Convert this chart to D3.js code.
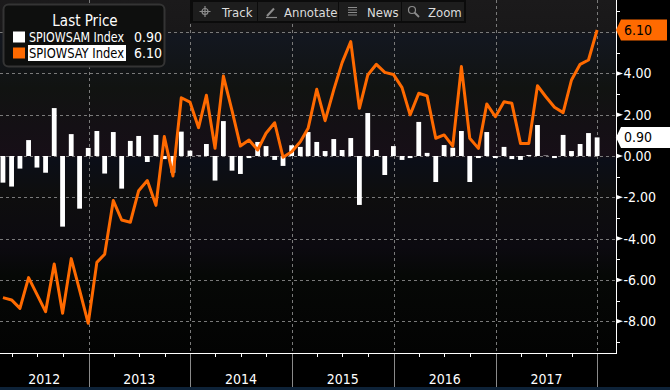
<!DOCTYPE html>
<html>
<head>
<meta charset="utf-8">
<script src="https://cdn.jsdelivr.net/npm/d3@7"></script>
<style>
  body { margin: 0; background: #000; }
  svg { display: block; }
</style>
</head>
<body>
<svg width="670" height="390"></svg>
<script>
// monthly series, first point Feb 2012, one value per month-end
let firstMonth = [2012, 1];
let momValues = [-1.29, -1.48, -0.61, 0.77, -0.56, -0.81, 2.32, -3.42, 1.06, -2.55, 0.39,
  1.21, -0.85, 1.16, -1.58, 0.73, 0.97, -0.29, 1.02, -0.15, -0.81, 1.18, 0.26, 0.03,
  0.58, -1.19, 1.69, -0.71, -0.87, -0.10, 0.68, 0.48, -0.19, -0.48, 0.52, 0.44,
  1.16, 0.68, 0.24, 0.82, 0.29, 0.87, -2.37, 2.08, 0.29, -0.92, 0.48, -0.19,
  -0.10, 1.65, 0.15, -1.26, 0.53, 0.40, 1.21, -1.26, -0.10, 1.16, -0.10, 0.44,
  -0.15, -0.19, 0.05, 1.50, 0.02, -0.10, 1.02, 0.24, 0.58, 1.11, 0.90];
let yoyValues = [-6.86, -6.97, -7.38, -5.89, -6.7, -7.54, -5.23, -7.62, -4.97, -6.5, -8.10,
  -5.15, -4.76, -2.16, -3.10, -3.21, -1.68, -1.19, -2.39, 0.94, -0.97, 2.82, 2.61, 1.37,
  2.94, 0.37, 3.87, 2.2, 0.48, 0.77, 0.29, 1.10, 1.61, -0.06, 0.21, 0.69,
  1.34, 3.23, 1.71, 3.20, 4.52, 5.54, 2.31, 3.92, 4.44, 4.05, 3.95, 3.31,
  1.99, 3.04, 2.91, 0.86, 1.02, 0.48, 4.33, 0.86, 0.37, 2.52, 1.90, 2.63,
  2.55, 0.61, 0.61, 3.40, 2.87, 2.36, 2.10, 3.68, 4.44, 4.65, 6.10];
let seriesNames = ["SPIOWSAM Index", "SPIOWSAY Index"];
let yearLabels = ["2012", "2013", "2014", "2015", "2016", "2017"];
let yMajorTicks = [-8, -6, -4, -2, 0, 2, 4, 6];
let yMinorTicks = [-9, -7, -5, -3, -1, 1, 3, 5, 7];
let toolButtons = ["Track", "Annotate", "News", "Zoom"];

let FONT = '"DejaVu Sans Condensed", "Liberation Sans Narrow", "DejaVu Sans", sans-serif';
let ORANGE = "#ff6a00";

let svg = d3.select("svg"),
    axisX = 616,
    plotBottom = 353;

let fmt = d3.formatLocale({decimal: ".", thousands: ",", grouping: [3], currency: ["", ""], minus: "-"}).format(".2f");

let dates = momValues.map(function(d, i) {
  return new Date(firstMonth[0], firstMonth[1] + i + 1, 0);
});

let x = d3.scaleTime()
    .domain([new Date(2013, 0, 1), new Date(2018, 0, 1)])
    .range([88.5, 597.4]);

let y = d3.scaleLinear()
    .domain([-9.54, 7.554])
    .range([plotBottom, 0]);

let lastMom = momValues[momValues.length - 1],
    lastYoy = yoyValues[yoyValues.length - 1];

// background gradient of the plot
let defs = svg.append("defs");
let grad = defs.append("linearGradient")
    .attr("id", "bg").attr("x1", 0).attr("y1", 0).attr("x2", 0).attr("y2", 1);
[[0, "#1b1a1b"], [0.085, "#191819"], [0.1, "#131720"], [0.25, "#111311"], [0.36, "#141015"],
 [0.44, "#170f17"], [0.45, "#0b0e18"], [0.55, "#0e0e0e"], [0.7, "#0c0a10"],
 [0.78, "#060806"], [1, "#030303"]].forEach(function(s) {
  grad.append("stop").attr("offset", s[0]).attr("stop-color", s[1]);
});

svg.append("rect").attr("width", 670).attr("height", 390).attr("fill", "#000");
svg.append("rect").attr("width", axisX).attr("height", plotBottom).attr("fill", "url(#bg)");

// grid
let g = svg.append("g");
g.selectAll(".hgrid").data(yMajorTicks).enter().append("line")
    .attr("x1", 0).attr("x2", axisX)
    .attr("y1", function(d) { return Math.round(y(d)) + 0.5; })
    .attr("y2", function(d) { return Math.round(y(d)) + 0.5; })
    .attr("stroke", "#7a7a7a").attr("stroke-dasharray", "3,3");

let yearStarts = yearLabels.map(function(d) { return new Date(+d + 1, 0, 1); });
g.selectAll(".vgrid").data(yearStarts).enter().append("line")
    .attr("x1", function(d) { return Math.round(x(d)) + 0.5; })
    .attr("x2", function(d) { return Math.round(x(d)) + 0.5; })
    .attr("y1", 0).attr("y2", plotBottom)
    .attr("stroke", "#7a7a7a").attr("stroke-dasharray", "3,3");

// bars
g.selectAll(".bar").data(momValues).enter().append("rect")
    .attr("x", function(d, i) { return x(dates[i]) - 2.4; })
    .attr("width", 4.8)
    .attr("y", function(d) { return y(Math.max(0, d)); })
    .attr("height", function(d) { return Math.abs(y(d) - y(0)); })
    .attr("fill", "#fff");

// line
let line = d3.line()
  .x(function(d, i) { return x(dates[i]); })
  .y(function(d) { return y(d); });

g.append("path")
    .datum(yoyValues)
    .attr("d", line)
    .attr("fill", "none")
    .attr("stroke", ORANGE)
    .attr("stroke-width", 3)
    .attr("stroke-linejoin", "round");

// right axis (labels under a last-value tag are hidden, as in the terminal)
let shownTicks = yMajorTicks.filter(function(d) {
  return Math.abs(y(d) - y(lastYoy)) > 12 && Math.abs(y(d) - y(lastMom)) > 12;
});
let ax = svg.append("g");
ax.append("line").attr("x1", axisX + 0.5).attr("x2", axisX + 0.5)
    .attr("y1", 0).attr("y2", plotBottom + 0.5).attr("stroke", "#fff");
ax.selectAll(".minor").data(yMinorTicks).enter().append("line")
    .attr("x1", axisX).attr("x2", axisX + 4)
    .attr("y1", function(d) { return Math.round(y(d)) + 0.5; })
    .attr("y2", function(d) { return Math.round(y(d)) + 0.5; })
    .attr("stroke", "#fff");
ax.selectAll(".tri").data(shownTicks).enter().append("path")
    .attr("d", function(d) {
      let yy = y(d);
      return "M" + axisX + "," + (yy - 2.5) + "L" + (axisX + 7) + "," + yy + "L" + axisX + "," + (yy + 2.5) + "Z";
    })
    .attr("fill", "#fff");
ax.selectAll(".lab").data(shownTicks).enter().append("text")
    .attr("x", axisX + 7.5)
    .attr("y", function(d) { return y(d) + 5; })
    .attr("fill", "#fff")
    .attr("font-family", FONT).attr("font-size", 14)
    .text(function(d) { return fmt(d); });

// last value tags
function tag(v, fill, right) {
  let yy = y(v);
  svg.append("path")
      .attr("d", "M" + axisX + "," + yy + "L" + (axisX + 5) + "," + (yy - 10.5) + "L" + right + "," + (yy - 10.5) +
        "L" + right + "," + (yy + 10.5) + "L" + (axisX + 5) + "," + (yy + 10.5) + "Z")
      .attr("fill", fill);
  svg.append("text")
      .attr("x", axisX + 8).attr("y", yy + 5)
      .attr("fill", "#000")
      .attr("font-family", FONT).attr("font-size", 14)
      .text(fmt(v));
}
tag(lastYoy, ORANGE, 667);
tag(lastMom, "#fff", 672);

// bottom axis
let bx = svg.append("g");
bx.append("line").attr("x1", 0).attr("x2", axisX + 1)
    .attr("y1", plotBottom + 0.5).attr("y2", plotBottom + 0.5).attr("stroke", "#fff");
let quarters = d3.timeMonth.every(3).range(new Date(2012, 0, 1), new Date(2018, 0, 2))
    .filter(function(d) { return d.getMonth() !== 0 && x(d) > 0; });
bx.selectAll(".qt").data(quarters).enter().append("line")
    .attr("x1", function(d) { return Math.round(x(d)) + 0.5; })
    .attr("x2", function(d) { return Math.round(x(d)) + 0.5; })
    .attr("y1", plotBottom).attr("y2", plotBottom + 4)
    .attr("stroke", "#fff");
bx.selectAll(".ysep").data(yearStarts).enter().append("line")
    .attr("x1", function(d) { return Math.round(x(d)) + 0.5; })
    .attr("x2", function(d) { return Math.round(x(d)) + 0.5; })
    .attr("y1", plotBottom + 1).attr("y2", 387)
    .attr("stroke", "#8a8a8a");
bx.selectAll(".ylab").data(yearLabels).enter().append("text")
    .attr("x", function(d) {
      let a = Math.max(0, x(new Date(+d, 0, 1))), b = Math.min(axisX, x(new Date(+d + 1, 0, 1)));
      return (a + b) / 2;
    })
    .attr("y", 384)
    .attr("text-anchor", "middle")
    .attr("fill", "#fff")
    .attr("font-family", FONT).attr("font-size", 14)
    .text(function(d) { return d; });
svg.append("rect").attr("x", 0).attr("y", 387).attr("width", 670).attr("height", 3).attr("fill", "#0d2238");

// legend
let lg = svg.append("g");
lg.append("rect").attr("x", 3.5).attr("y", 4.5).attr("width", 161).attr("height", 62).attr("rx", 5)
    .attr("fill", "#0e0f0e").attr("stroke", "#343434").attr("stroke-width", 2);
lg.append("text").attr("x", 85).attr("y", 26).attr("text-anchor", "middle")
    .attr("fill", "#fff").attr("font-family", FONT).attr("font-size", 15)
    .text("Last Price");
let legendRows = [
  {name: seriesNames[0], value: lastMom, color: "#fff"},
  {name: seriesNames[1], value: lastYoy, color: ORANGE}
];
legendRows.forEach(function(r, i) {
  let yy = 37 + i * 16;
  lg.append("rect").attr("x", 13).attr("y", yy - 5.5).attr("width", 12).attr("height", 11).attr("fill", r.color);
  if (i === 1) {
    lg.append("rect").attr("x", 28).attr("y", yy - 8).attr("width", 98).attr("height", 16).attr("fill", "#fff");
  }
  lg.append("text").attr("x", 29).attr("y", yy + 5)
      .attr("fill", i === 1 ? "#000" : "#fff")
      .attr("font-family", FONT).attr("font-size", 13.5)
      .attr("textLength", 95).attr("lengthAdjust", "spacingAndGlyphs")
      .text(r.name);
  lg.append("text").attr("x", 134).attr("y", yy + 5)
      .attr("fill", "#fff")
      .attr("font-family", FONT).attr("font-size", 14)
      .text(fmt(r.value));
});

// toolbar
let tb = svg.append("g");
tb.append("rect").attr("x", 190).attr("y", 0).attr("width", 276).attr("height", 23).attr("fill", "#0b0b0b");
let btnX = [193, 258, 339, 402],
    btnW = [64, 80, 62, 62];
toolButtons.forEach(function(name, i) {
  let bxp = btnX[i];
  tb.append("rect").attr("x", bxp).attr("y", 2).attr("width", btnW[i]).attr("height", 19).attr("fill", "#1d1d1d");
  tb.append("text").attr("x", bxp + [29, 26, 28, 26][i]).attr("y", 16.5)
      .attr("fill", "#dcdcdc").attr("font-family", FONT).attr("font-size", 13)
      .text(name);
});
let ic = tb.append("g").attr("stroke", "#8c8c8c").attr("fill", "none").attr("stroke-width", 1.2);
// crosshair
ic.append("circle").attr("cx", 205).attr("cy", 11.5).attr("r", 3);
ic.append("path").attr("d", "M199.5,11.5H210.5M205,6V17");
// pencil
ic.append("path").attr("d", "M267,16L274,8.5").attr("stroke-width", 2);
ic.append("path").attr("d", "M266,17.5H277");
// news
ic.append("path").attr("d", "M348,7.5H357M348,10H357M348,12.5H357M348,15H357");
// magnifier
ic.append("circle").attr("cx", 412).attr("cy", 10).attr("r", 3.5);
ic.append("path").attr("d", "M414.5,12.5L419,17").attr("stroke-width", 1.8);
</script>
</body>
</html>
